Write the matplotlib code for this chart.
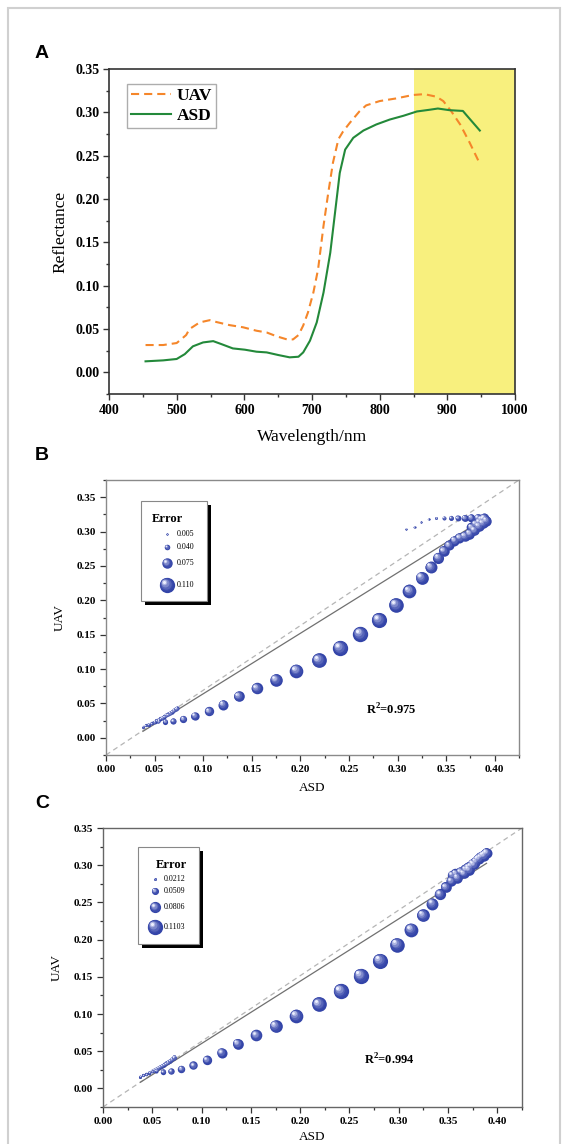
import numpy as np
import matplotlib
matplotlib.use("Agg")
import matplotlib.pyplot as plt
from matplotlib.patches import Rectangle
from matplotlib.transforms import ScaledTranslation
from matplotlib.colors import to_rgb
from matplotlib.ticker import MultipleLocator

# ---------------- data ----------------
uav_wl = [454, 480, 500, 514, 519, 534, 549, 559, 578, 598, 618, 633, 648, 663, 672, 680, 687,
          694, 702, 709, 717, 724, 731, 739, 746, 756, 770, 780, 800, 824, 849, 866, 884, 894,
          906, 919, 933, 946]
uav_ref = [0.0315, 0.0315, 0.0338, 0.043, 0.050, 0.0576, 0.0602, 0.058, 0.0545, 0.052, 0.048,
           0.046, 0.0415, 0.038, 0.038, 0.043, 0.054, 0.069, 0.092, 0.119, 0.169, 0.207, 0.242,
           0.269, 0.278, 0.288, 0.301, 0.308, 0.313, 0.316, 0.320, 0.321, 0.318, 0.313, 0.301,
           0.286, 0.265, 0.244]
asd_wl = [454, 480, 500, 512, 524, 539, 554, 566, 583, 601, 618, 633, 650, 667, 680, 687, 697,
          707, 717, 727, 734, 741, 749, 761, 776, 795, 815, 835, 855, 874, 886, 903, 923, 928,
          938, 948]
asd_ref = [0.0127, 0.0138, 0.0154, 0.021, 0.030, 0.0345, 0.036, 0.0326, 0.0276, 0.0261, 0.0238,
           0.023, 0.020, 0.0173, 0.018, 0.023, 0.0365, 0.0576, 0.092, 0.138, 0.184, 0.230, 0.257,
           0.2706, 0.279, 0.286, 0.2917, 0.296, 0.301, 0.303, 0.3044, 0.3025, 0.3016, 0.297,
           0.288, 0.279]
highlight_band = [850, 1000]

b_asd = [0.038, 0.041, 0.044, 0.047, 0.050, 0.052, 0.054, 0.056, 0.058, 0.060, 0.062, 0.064,
         0.066, 0.068, 0.070, 0.072, 0.073,
         0.054, 0.061, 0.069,
         0.0795, 0.0914, 0.106, 0.1205, 0.1366, 0.155, 0.175, 0.196, 0.219, 0.241, 0.2616,
         0.2808, 0.2983, 0.3123, 0.3247, 0.3342, 0.3418, 0.3476, 0.3527, 0.3586, 0.3637, 0.369,
         0.374, 0.379, 0.3836, 0.3877, 0.391,
         0.309, 0.3175, 0.324, 0.332, 0.340, 0.348, 0.355, 0.362, 0.369, 0.3757, 0.3825, 0.3877,
         0.386, 0.389, 0.384, 0.380, 0.376]
b_uav = [0.016, 0.018, 0.019, 0.021, 0.023, 0.025, 0.026, 0.028, 0.029, 0.031, 0.033, 0.034,
         0.036, 0.038, 0.040, 0.042, 0.043,
         0.024, 0.0236, 0.0246,
         0.0275, 0.0318, 0.0386, 0.0482, 0.0603, 0.0723, 0.0844, 0.0979, 0.1128, 0.1307, 0.151,
         0.1716, 0.1933, 0.2136, 0.2329, 0.2483, 0.2618, 0.272, 0.280, 0.287, 0.291, 0.2936,
         0.297, 0.302, 0.3076, 0.312, 0.316,
         0.304, 0.3067, 0.314, 0.3177, 0.3197, 0.3197, 0.320, 0.320, 0.320, 0.320, 0.3197, 0.318,
         0.318, 0.320, 0.314, 0.311, 0.306]
b_fit = (0.88, -0.024)
b_r2 = "0.975"
b_legend_err = [0.005, 0.040, 0.075, 0.110]
b_legend_lbl = ["0.005", "0.040", "0.075", "0.110"]

c_asd = [0.038, 0.041, 0.044, 0.047, 0.050, 0.052, 0.054, 0.056, 0.058, 0.060, 0.062, 0.064,
         0.066, 0.068, 0.070, 0.072, 0.0724,
         0.054, 0.061, 0.069,
         0.0795, 0.0917, 0.1056, 0.1205, 0.1367, 0.1553, 0.175, 0.196, 0.219, 0.241, 0.2613,
         0.2809, 0.298, 0.3124, 0.3245, 0.334, 0.3418, 0.3475, 0.3533, 0.3594, 0.366, 0.371,
         0.376, 0.381, 0.386, 0.389,
         0.354, 0.3574, 0.3624, 0.3675, 0.370, 0.3726, 0.375, 0.3777, 0.380, 0.3827, 0.385,
         0.387, 0.3888]
c_uav = [0.0157, 0.0175, 0.019, 0.021, 0.023, 0.0245, 0.026, 0.0275, 0.029, 0.0305, 0.032,
         0.0335, 0.035, 0.037, 0.039, 0.041, 0.0425,
         0.024, 0.0224, 0.0233,
         0.026, 0.0309, 0.0385, 0.0479, 0.060, 0.0716, 0.0837, 0.0976, 0.1133, 0.1307, 0.1513,
         0.1719, 0.1934, 0.2135, 0.2328, 0.2484, 0.261, 0.2708, 0.2789, 0.2834, 0.289, 0.294,
         0.301, 0.309, 0.313, 0.317,
         0.2867, 0.289, 0.2912, 0.2944, 0.297, 0.2988, 0.302, 0.3047, 0.308, 0.3114, 0.313,
         0.315, 0.3168]
c_fit = (0.838, -0.0235)
c_r2 = "0.994"
c_legend_err = [0.0212, 0.0509, 0.0806, 0.1103]
c_legend_lbl = ["0.0212", "0.0509", "0.0806", "0.1103"]

# ---------------- style ----------------
W, H = 568, 1144
DPI = 100
plt.rcParams['font.family'] = ['Liberation Serif', 'DejaVu Serif']
plt.rcParams['font.weight'] = 'bold'
plt.rcParams['mathtext.fontset'] = 'custom'
plt.rcParams['mathtext.rm'] = 'Liberation Serif'
plt.rcParams['mathtext.bf'] = 'Liberation Serif:bold'

fig = plt.figure(figsize=(W / DPI, H / DPI), dpi=DPI)
fig.patch.set_facecolor('white')
fig.patches.append(Rectangle((8 / W, -0.01), 552 / W, 1 - 8 / H + 0.01, transform=fig.transFigure,
                             fill=False, edgecolor='#d0d0d0', linewidth=1.5))


def px_axes(x0, y0, x1, y1):
    return fig.add_axes([x0 / W, 1 - y1 / H, (x1 - x0) / W, (y1 - y0) / H])


def panel_label(txt, x, y):
    fig.text(x / W, 1 - y / H, txt, family=['Liberation Sans', 'DejaVu Sans'], fontweight='bold',
             fontsize=14, ha='center', va='center')


SIZE_K = 100.0  # marker diameter in points per unit error
MIN_D = 1.6
BASE = np.array(to_rgb('#3344a8'))
LIGHT = np.array([0.93, 0.94, 1.0])


def spheres(ax, xs, ys, errs, trans=None, zorder=4):
    if trans is None:
        trans = ax.transData
    for x, y, e in zip(xs, ys, errs):
        d = max(SIZE_K * abs(e), MIN_D)
        nl = 6
        for k in range(nl):
            f = 1 - k * 0.16
            t = (k / (nl - 1)) ** 1.8
            col = BASE + (LIGHT - BASE) * t
            off = (1 - f) * d / 2 * 0.55
            tr = trans + ScaledTranslation(-off / 72, off / 72, fig.dpi_scale_trans)
            ax.scatter([x], [y], s=(d * f) ** 2, color=col, linewidths=0, transform=tr,
                       zorder=zorder + k * 0.01, clip_on=False)


# ---------------- Panel A ----------------
axA = px_axes(109, 69, 515, 394)
axA.axvspan(highlight_band[0], highlight_band[1], color='#f8f07e', zorder=0, lw=0)
axA.plot(uav_wl, uav_ref, color='#f5862a', lw=1.5, ls=(0, (3.9, 2.4)), label='UAV', zorder=3)
axA.plot(asd_wl, asd_ref, color='#23893a', lw=1.5, label='ASD', zorder=3)
axA.set_xlim(400, 1000)
axA.set_ylim(-0.025, 0.35)
axA.xaxis.set_major_locator(MultipleLocator(100))
axA.xaxis.set_minor_locator(MultipleLocator(50))
axA.yaxis.set_major_locator(MultipleLocator(0.05))
axA.yaxis.set_minor_locator(MultipleLocator(0.025))
axA.yaxis.set_major_formatter(plt.FormatStrFormatter('%.2f'))
axA.tick_params(which='both', direction='out', top=False, right=False, labelsize=10, width=1.0,
                color='#333333')
axA.tick_params(which='major', length=4.5, pad=2.5)
axA.tick_params(which='minor', length=2.5)
for s in axA.spines.values():
    s.set_linewidth(1.2)
    s.set_color('#333333')
axA.set_xlabel('Wavelength/nm', fontsize=12.5, fontweight='normal', labelpad=9)
axA.set_ylabel('Reflectance', fontsize=12.5, fontweight='normal', labelpad=5)
legA = axA.legend(loc='upper left', bbox_to_anchor=((127 - 109) / 406, 1 - (84 - 69) / 325),
                  frameon=True, fancybox=False, edgecolor='#999999', fontsize=12.5,
                  handlelength=2.3, handletextpad=0.3, borderpad=0.25, labelspacing=0.2,
                  borderaxespad=0)
legA.get_frame().set_linewidth(1.0)
panel_label('A', 42, 54)


# ---------------- Panels B & C ----------------
def scatter_panel(box, asd, uav, fit, r2, leg_err, leg_lbl, ylim, r2_xy, leg_box, leg_title,
                  leg_rows, leg_mx, leg_tx, spine_col, xlabel_pad):
    ax = px_axes(*box)
    asd = np.asarray(asd)
    uav = np.asarray(uav)
    err = np.abs(asd - uav)
    ax.set_xlim(0, 0.425)
    ax.set_ylim(*ylim)
    ax.plot([0, 1], [0, 1], transform=ax.transAxes, color='#b5b5b5', lw=0.9, ls=(0, (4, 3)),
            zorder=2)
    xf = np.array([asd.min(), asd.max()])
    ax.plot(xf, fit[0] * xf + fit[1], color='#707070', lw=0.9, zorder=2.5)
    spheres(ax, asd, uav, err)
    ax.xaxis.set_major_locator(MultipleLocator(0.05))
    ax.xaxis.set_minor_locator(MultipleLocator(0.025))
    ax.yaxis.set_major_locator(MultipleLocator(0.05))
    ax.yaxis.set_minor_locator(MultipleLocator(0.025))
    ax.xaxis.set_major_formatter(plt.FormatStrFormatter('%.2f'))
    ax.yaxis.set_major_formatter(plt.FormatStrFormatter('%.2f'))
    ax.tick_params(which='both', direction='out', top=False, right=False, labelsize=8,
                   width=0.9, color='#333333')
    ax.tick_params(which='major', length=4, pad=3)
    ax.tick_params(which='minor', length=2)
    for s in ax.spines.values():
        s.set_linewidth(1.0)
        s.set_color(spine_col)
    ax.set_xlabel('ASD', fontsize=9.5, fontweight='normal', labelpad=xlabel_pad)
    ax.set_ylabel('UAV', fontsize=9.5, fontweight='normal', labelpad=8)
    ax.text(r2_xy[0], r2_xy[1], r'R$^{\mathbf{2}}$=' + r2, fontsize=9, fontweight='bold',
            ha='center', va='center')
    # legend box
    bx0, by0, bx1, by1 = leg_box
    X0, Y0, X1, Y1 = box
    wpx, hpx = X1 - X0, Y1 - Y0

    def fx(px):
        return (px - X0) / wpx

    def fy(py):
        return (Y1 - py) / hpx

    ax.add_patch(Rectangle((fx(bx0 + 4), fy(by1 + 4)), (bx1 - bx0) / wpx, (by1 - by0) / hpx,
                           transform=ax.transAxes, facecolor='black', edgecolor='none',
                           zorder=6, clip_on=False))
    ax.add_patch(Rectangle((fx(bx0), fy(by1)), (bx1 - bx0) / wpx, (by1 - by0) / hpx,
                           transform=ax.transAxes, facecolor='white', edgecolor='#888888',
                           lw=0.8, zorder=7, clip_on=False))
    ax.text(fx(leg_title[0]), fy(leg_title[1]), 'Error', transform=ax.transAxes, fontsize=9,
            fontweight='bold', ha='center', va='center', zorder=8)
    for e, lbl, ry in zip(leg_err, leg_lbl, leg_rows):
        spheres(ax, [fx(leg_mx)], [fy(ry)], [e], trans=ax.transAxes, zorder=8)
        ax.text(fx(leg_tx), fy(ry), lbl, transform=ax.transAxes, fontsize=5.8,
                fontweight='normal', ha='left', va='center', zorder=9)
    return ax


scatter_panel((106, 480, 519, 755), b_asd, b_uav, b_fit, b_r2, b_legend_err, b_legend_lbl,
              (-0.025, 0.375), (0.294, 0.0405), (141, 501, 207, 601), (167, 519),
              [534, 547, 563, 585], 167, 177, '#8a8a8a', 6)
panel_label('B', 42, 455)

scatter_panel((103, 828, 522, 1107), c_asd, c_uav, c_fit, c_r2, c_legend_err, c_legend_lbl,
              (-0.025, 0.35), (0.291, 0.0377), (138, 847, 199, 944), (171, 865),
              [879, 891, 907, 927], 155, 164, '#666666', 4)
panel_label('C', 42, 803)

fig.savefig('out.png', dpi=DPI)
